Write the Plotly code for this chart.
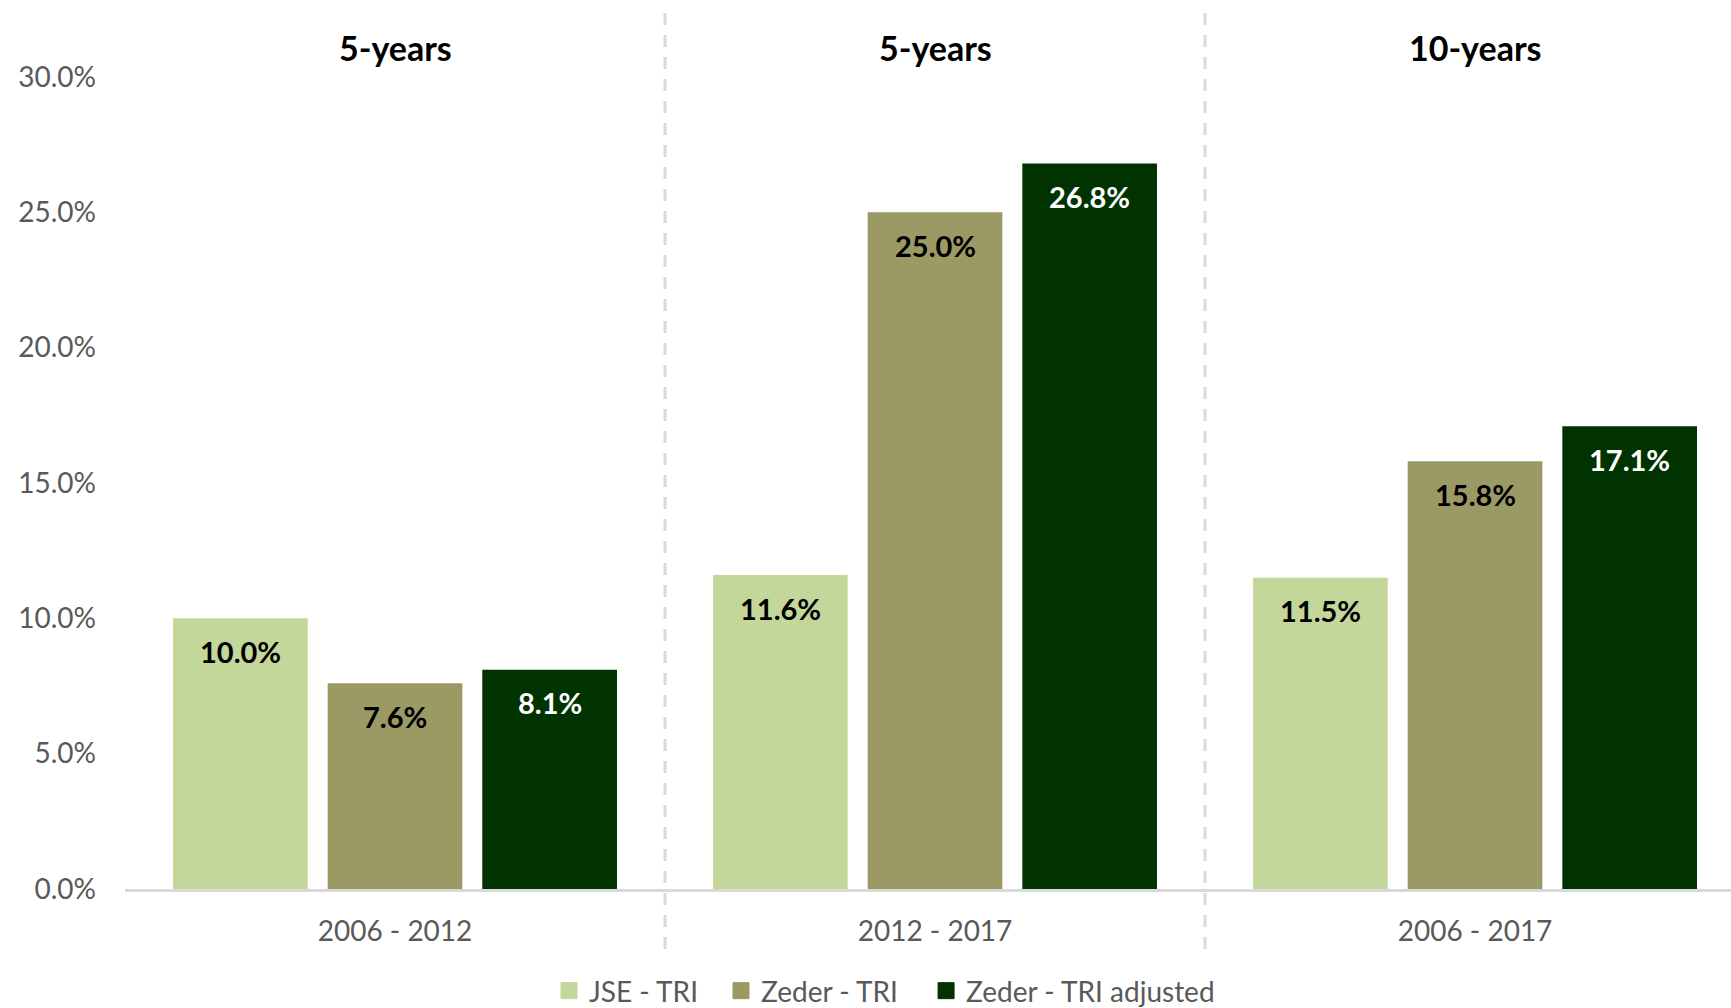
import plotly.graph_objects as go

categories = ["2006 - 2012", "2012 - 2017", "2006 - 2017"]
periods = ["5-years", "5-years", "10-years"]
series_names = ["JSE - TRI", "Zeder - TRI", "Zeder - TRI adjusted"]
jse_tri = [10.0, 11.6, 11.5]
zeder_tri = [7.6, 25.0, 15.8]
zeder_adj = [8.1, 26.8, 17.1]
y_ticks = [0, 5, 10, 15, 20, 25, 30]

colors = ["#C4D79B", "#9B9964", "#003300"]
label_colors = ["#000000", "#000000", "#FFFFFF"]
FONT = "Lato, Carlito, Calibri, sans-serif"

BARGAP = 0.141
BARGROUPGAP = 0.129
slot = (1 - BARGAP) / 3

fig = go.Figure()
all_series = [jse_tri, zeder_tri, zeder_adj]
legend_ids = ["legend", "legend2", "legend3"]
for name, vals, col, lg in zip(series_names, all_series, colors, legend_ids):
    fig.add_trace(go.Bar(name=name, x=categories, y=vals, marker_color=col,
                         marker_line_width=0, hoverinfo="skip", showlegend=False))
    # legend-only entry with a larger square swatch
    fig.add_trace(go.Scatter(name=name, x=[None], y=[None], mode="markers",
                             marker=dict(symbol="square", size=16, color=col,
                                         line=dict(width=1, color=col)),
                             showlegend=True, legend=lg, hoverinfo="skip"))

annotations = []
for j, (vals, lc) in enumerate(zip(all_series, label_colors)):
    for i, v in enumerate(vals):
        annotations.append(dict(
            x=i + (j - 1) * slot, y=v, xref="x", yref="y",
            text="<b>%.1f%%</b>" % v, showarrow=False, yshift=-33,
            yanchor="middle", xanchor="center",
            font=dict(family=FONT, size=29, color=lc)))
for i, p in enumerate(periods):
    annotations.append(dict(
        x=i, y=1, xref="x", yref="paper", text="<b>%s</b>" % p,
        showarrow=False, yshift=30, yanchor="middle",
        font=dict(family=FONT, size=34, color="#000000")))

shapes = []
for xs in [0.5, 1.5]:
    shapes.append(dict(type="line", xref="x", yref="paper", x0=xs, x1=xs,
                       y0=-0.074, y1=1.079,
                       line=dict(color="#D9D9D9", width=3, dash="12px,10px")))

legend_font = dict(family=FONT, size=28, color="#595959")
legend_common = dict(orientation="h", xanchor="left", yref="container",
                     y=0.0169, yanchor="middle", font=legend_font,
                     bgcolor="rgba(0,0,0,0)", itemsizing="trace")

fig.update_layout(
    width=1731, height=1008,
    margin=dict(l=125, r=0, t=77, b=119),
    paper_bgcolor="white", plot_bgcolor="white",
    barmode="group", bargap=BARGAP, bargroupgap=BARGROUPGAP,
    font=dict(family=FONT, size=28, color="#595959"),
    showlegend=True,
    legend=dict(x=0.264, **legend_common),
    legend2=dict(x=0.3711, **legend_common),
    legend3=dict(x=0.4988, **legend_common),
    annotations=annotations, shapes=shapes,
)
fig.update_xaxes(type="category", range=[-0.5, 2.474], showline=True,
                 linecolor="#D9D9D9", linewidth=3, ticks="", showgrid=False,
                 zeroline=False, tickfont=dict(family=FONT, size=28, color="#595959"),
                 ticklabelstandoff=15, fixedrange=True)
fig.update_yaxes(range=[0, 30], tickvals=y_ticks,
                 ticktext=["%.1f%%" % t for t in y_ticks], showgrid=False,
                 zeroline=False, showline=False, ticks="",
                 tickfont=dict(family=FONT, size=28, color="#595959"),
                 ticklabelstandoff=28, fixedrange=True)

fig.write_html("out.html")
